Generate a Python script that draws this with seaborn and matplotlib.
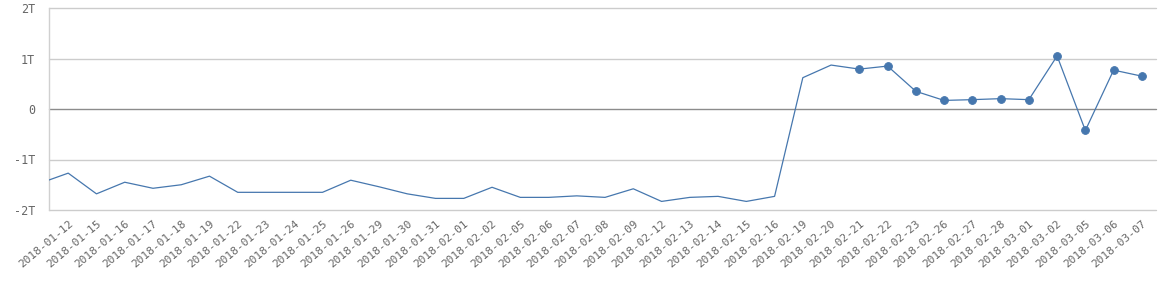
import numpy as np
import pandas as pd
import matplotlib
matplotlib.use("Agg")
import matplotlib.pyplot as plt
import seaborn as sns

# ---- data (values in trillions) ----
dates = ["2018-01-12", "2018-01-15", "2018-01-16", "2018-01-17", "2018-01-18", "2018-01-19",
         "2018-01-22", "2018-01-23", "2018-01-24", "2018-01-25", "2018-01-26", "2018-01-29",
         "2018-01-30", "2018-01-31", "2018-02-01", "2018-02-02", "2018-02-05", "2018-02-06",
         "2018-02-07", "2018-02-08", "2018-02-09", "2018-02-12", "2018-02-13", "2018-02-14",
         "2018-02-15", "2018-02-16", "2018-02-19", "2018-02-20", "2018-02-21", "2018-02-22",
         "2018-02-23", "2018-02-26", "2018-02-27", "2018-02-28", "2018-03-01", "2018-03-02",
         "2018-03-05", "2018-03-06", "2018-03-07"]
values = [-1.27, -1.68, -1.45, -1.57, -1.50, -1.33,
          -1.65, -1.65, -1.65, -1.65, -1.41, -1.54,
          -1.68, -1.77, -1.77, -1.55, -1.75, -1.75,
          -1.72, -1.75, -1.58, -1.83, -1.75, -1.73,
          -1.83, -1.73, 0.62, 0.87, 0.79, 0.85,
          0.35, 0.17, 0.185, 0.205, 0.185, 1.05,
          -0.425, 0.77, 0.65]
# value of the (unlabelled) point preceding the window, visible as the line entering from the left
lead_in_value = -1.47
marked_from = "2018-02-21"   # points drawn with dot markers from this date on
y_ticks = [-2, -1, 0, 1, 2]
y_tick_labels = ["-2T", "-1T", "0", "1T", "2T"]

# ---- frame ----
df = pd.DataFrame({"date": dates, "value": values})
df["pos"] = np.arange(len(df))
line_df = pd.concat([pd.DataFrame({"date": [""], "value": [lead_in_value], "pos": [-1]}), df],
                    ignore_index=True)
mark_df = df[df["pos"] >= dates.index(marked_from)]

sns.set_theme(style="white")
plt.rcParams["font.family"] = ["DejaVu Sans Mono", "DejaVu Sans"]

fig = plt.figure(figsize=(11.6, 2.86), dpi=100)
ax = fig.add_axes([49 / 1160, 1 - 210 / 286, (1156 - 49) / 1160, (210 - 8) / 286])

color = "#4677ae"
sns.lineplot(data=line_df, x="pos", y="value", ax=ax, color=color, linewidth=0.9,
             estimator=None, sort=True, zorder=4)
sns.scatterplot(data=mark_df, x="pos", y="value", ax=ax, color=color, s=32,
                edgecolor=color, linewidth=0.6, zorder=5)

ax.set_xlim(-0.68, len(dates) - 1 + 0.5)
ax.set_ylim(-2, 2)
ax.set_yticks(y_ticks)
ax.set_yticklabels(y_tick_labels)
ax.set_xticks(df["pos"])
ax.set_xticklabels(dates, rotation=40, ha="right", rotation_mode="anchor")
ax.set_xlabel("")
ax.set_ylabel("")

# grid
for yv in y_ticks:
    c = "#8c8c8c" if yv == 0 else "#cccccc"
    ax.axhline(yv, color=c, linewidth=1.0, zorder=1, clip_on=False)

for s in ["top", "right", "bottom"]:
    ax.spines[s].set_visible(False)
ax.spines["left"].set_color("#d0d0d0")
ax.spines["left"].set_linewidth(1.0)

ax.tick_params(axis="x", length=0, pad=6, labelsize=8, labelcolor="#666666")
ax.tick_params(axis="y", length=0, pad=10, labelsize=8.5, labelcolor="#666666")

fig.savefig("out.png", dpi=100)
